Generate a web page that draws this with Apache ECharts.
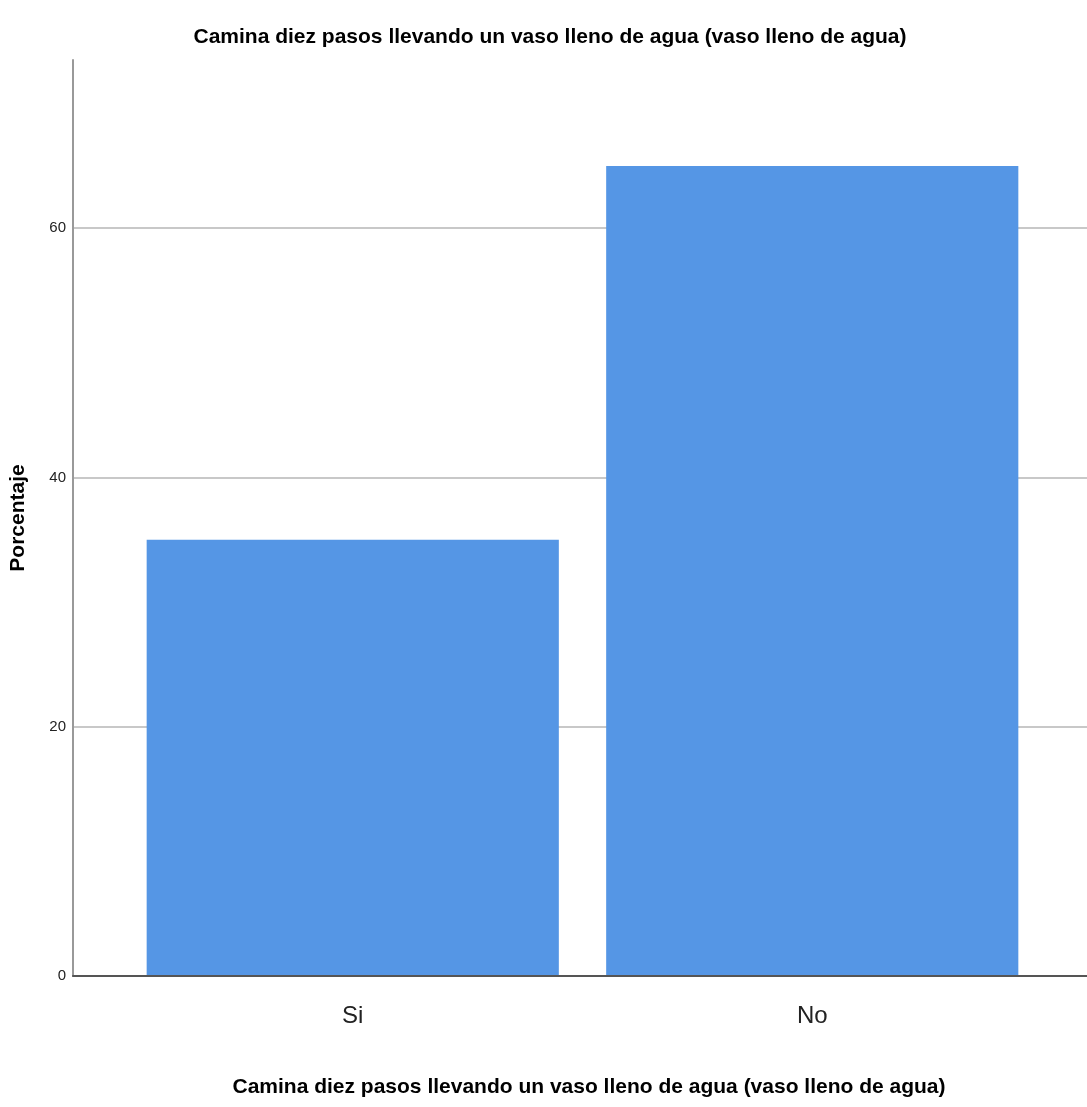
<!DOCTYPE html>
<html><head><meta charset="utf-8">
<script src="https://cdn.jsdelivr.net/npm/echarts@6/dist/echarts.min.js"></script>
<style>html,body{margin:0;padding:0;background:#fff}#c{width:1087px;height:1107px}</style>
</head><body><div id="c"></div>
<script>
const categories = ['Si', 'No'];
const percentValues = [35, 65];
const yTicks = [0, 20, 40, 60];
const titleText = 'Camina diez pasos llevando un vaso lleno de agua (vaso lleno de agua)';
const yName = 'Porcentaje';

const chart = echarts.init(document.getElementById('c'));
const font = '"Liberation Sans", Arial, sans-serif';
chart.setOption({
  animation: false,
  backgroundColor: '#fff',
  title: [
    { text: titleText, left: 545, top: 22, textAlign: 'center',
      textStyle: { fontFamily: font, fontSize: 21, fontWeight: 'bold', color: '#000' } },
    { text: titleText, left: 584, top: 1072, textAlign: 'center',
      textStyle: { fontFamily: font, fontSize: 21, fontWeight: 'bold', color: '#000' } }
  ],
  grid: [
    { left: 72, right: 0, top: 60, bottom: 131 },
    { left: 123, right: 45, top: 60, bottom: 131 }
  ],
  xAxis: [
    { gridIndex: 0, type: 'category', data: [''], axisTick: { show: false }, axisLabel: { show: false },
      axisLine: { show: true, lineStyle: { color: '#555', width: 2 } }, z: 5 },
    { gridIndex: 1, type: 'category', data: categories, axisTick: { show: false },
      axisLine: { show: false },
      axisLabel: { fontFamily: font, fontSize: 24, color: '#222', margin: 28 } }
  ],
  yAxis: [
    { gridIndex: 0, type: 'value', min: 0, max: 73.5, interval: 20,
      name: yName, nameLocation: 'middle', nameGap: 44, nameRotate: 90,
      nameTextStyle: { fontFamily: font, fontSize: 21, fontWeight: 'bold', color: '#000', letterSpacing: 7 },
      axisLine: { show: true, lineStyle: { color: '#999', width: 2 } },
      axisTick: { show: false },
      axisLabel: { fontFamily: font, fontSize: 15, color: '#222', margin: 7,
        formatter: v => yTicks.includes(v) ? String(v) : '' },
      splitLine: { show: true, showMaxLine: false, lineStyle: { color: '#c8c8c8', width: 2 } } },
    { gridIndex: 1, type: 'value', min: 0, max: 73.5, interval: 20, show: false,
      splitLine: { show: false } }
  ],
  series: [
    { type: 'bar', xAxisIndex: 1, yAxisIndex: 1, data: percentValues, barWidth: '89.7%',
      itemStyle: { color: '#5596E5' }, z: 3 }
  ]
});
</script></body></html>
